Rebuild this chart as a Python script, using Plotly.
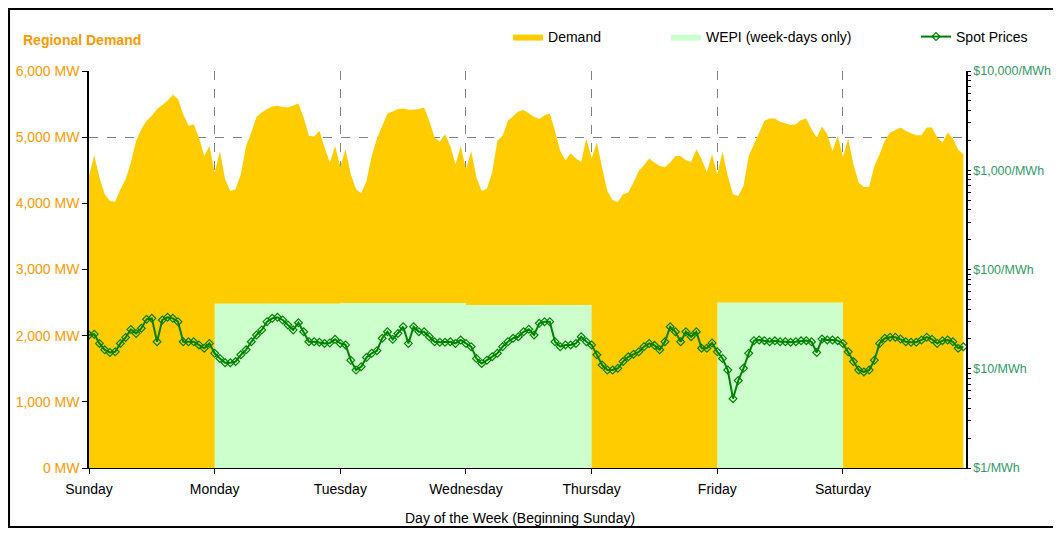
import plotly.graph_objects as go

# ---------------- data ----------------
DAYS = ["Sunday", "Monday", "Tuesday", "Wednesday", "Thursday", "Friday", "Saturday"]

# hourly regional demand (MW), one list per day
demand_sun = [4414, 4727, 4389, 4136, 4035, 4025, 4212, 4364, 4616, 4944, 5121, 5247,
              5323, 5424, 5485, 5550, 5641, 5576, 5348, 5171, 5197, 4995, 4717, 4868]
demand_mon = [4465, 4792, 4364, 4187, 4212, 4439, 4868, 5071, 5308, 5374, 5424, 5465,
              5475, 5455, 5450, 5485, 5510, 5298, 5020, 5010, 5096, 4843, 4616, 4868]
demand_tue = [4550, 4818, 4439, 4212, 4151, 4338, 4717, 4980, 5182, 5359, 5389, 5424,
              5434, 5414, 5414, 5424, 5450, 5247, 4995, 4929, 5045, 4868, 4591, 4868]
demand_wed = [4515, 4792, 4389, 4187, 4222, 4465, 4944, 5020, 5247, 5323, 5389, 5409,
              5359, 5308, 5273, 5333, 5359, 5096, 4792, 4652, 4758, 4677, 4626, 4980]
demand_thu = [4680, 4919, 4540, 4187, 4050, 4020, 4136, 4162, 4313, 4490, 4576, 4677,
              4616, 4565, 4550, 4616, 4717, 4717, 4652, 4626, 4818, 4667, 4475, 4742]
demand_fri = [4439, 4778, 4414, 4136, 4111, 4263, 4717, 4894, 5096, 5247, 5283, 5283,
              5232, 5212, 5182, 5197, 5258, 5283, 5121, 4995, 5162, 5045, 4792, 5020]
demand_sat = [4700, 4980, 4591, 4313, 4247, 4252, 4565, 4742, 4944, 5071, 5111, 5146,
              5095, 5060, 5030, 5030, 5146, 5146, 4995, 4919, 5071, 4980, 4813, 4742]

# hourly spot prices ($/MWh), one list per day
price_sun = [21.9, 22.3, 18.0, 15.5, 14.6, 14.8, 18.0, 20.7, 24.9, 22.7, 25.6, 31.5,
             32.2, 18.7, 31.0, 33.0, 32.2, 29.8, 18.7, 18.7, 18.7, 17.4, 16.1, 18.0]
price_mon = [14.3, 12.7, 11.5, 11.5, 11.8, 13.8, 15.5, 18.7, 21.9, 24.6, 29.8, 32.2,
             33.0, 31.0, 27.6, 24.6, 29.1, 23.6, 18.7, 18.7, 18.5, 18.0, 18.2, 19.8]
price_tue = [18.0, 17.4, 12.2, 9.7, 10.5, 13.0, 14.3, 15.2, 20.3, 23.6, 19.8, 22.7,
             26.5, 18.0, 26.5, 23.6, 23.6, 21.0, 18.7, 18.5, 18.5, 18.7, 18.0, 19.5]
price_wed = [18.0, 16.7, 12.7, 11.3, 12.2, 13.2, 14.3, 16.7, 18.7, 20.3, 21.0, 23.6,
             25.0, 21.9, 28.7, 29.8, 29.8, 18.7, 16.7, 17.4, 17.4, 18.0, 21.0, 18.7]
price_thu = [17.4, 13.8, 10.9, 9.7, 9.7, 10.1, 11.8, 13.2, 14.0, 14.8, 16.7, 18.0,
             17.2, 15.5, 18.7, 26.5, 23.6, 18.7, 23.6, 21.0, 23.6, 16.1, 16.1, 18.2]
price_fri = [14.8, 12.7, 9.7, 5.0, 7.6, 10.1, 14.3, 19.2, 19.5, 19.2, 18.7, 19.1,
             18.7, 18.7, 18.5, 18.7, 19.1, 19.2, 18.7, 14.6, 19.9, 19.5, 19.5, 19.2]
price_sat = [18.0, 14.8, 11.8, 9.7, 9.3, 9.7, 12.2, 18.0, 20.3, 20.8, 20.8, 19.9,
             18.7, 18.5, 18.5, 19.5, 20.8, 19.8, 18.0, 19.2, 19.5, 18.7, 16.1, 16.7]

# WEPI level (MW) per day (0 = not shown)
wepi_mw = [0, 2485, 2495, 2465, 0, 2500, 0]

# axis tick values / labels
mw_ticks = [0, 1000, 2000, 3000, 4000, 5000, 6000]
mw_labels = [f"{v:,} MW" for v in mw_ticks]
price_ticks = [1, 10, 100, 1000, 10000]
price_labels = [f"${v:,}/MWh" for v in price_ticks]

# ---------------- build ----------------
demand = demand_sun + demand_mon + demand_tue + demand_wed + demand_thu + demand_fri + demand_sat
prices = price_sun + price_mon + price_tue + price_wed + price_thu + price_fri + price_sat
hours = list(range(len(demand)))
day_start = [24 * i for i in range(len(DAYS))]
minor_vals = [m * 10 ** e for e in range(4) for m in range(2, 10)]

ORANGE = "#FF9900"
GREEN_TXT = "#339966"
FONT = "Liberation Sans, Arial, sans-serif"

fig = go.Figure()
fig.add_trace(go.Scatter(
    x=hours, y=demand, name="Demand", mode="lines",
    line=dict(width=0, color="#FFCC00"), fill="tozeroy", fillcolor="#FFCC00",
    legend="legend", hoverinfo="skip"))
fig.add_trace(go.Scatter(
    x=day_start, y=wepi_mw, name="WEPI (week-days only)", mode="lines",
    line=dict(width=0, shape="hv", color="#CCFFCC"), fill="tozeroy", fillcolor="#CCFFCC",
    legend="legend2", hoverinfo="skip"))
fig.add_trace(go.Scatter(
    x=hours, y=prices, name="Spot Prices", mode="lines+markers", yaxis="y2",
    line=dict(color="#008000", width=2),
    marker=dict(symbol="diamond-open", size=6, color="#008000", line=dict(width=1.2, color="#008000")),
    legend="legend3"))

fig.update_layout(
    template="none",
    width=1045, height=520, autosize=False,
    margin=dict(l=81, r=87, t=63, b=60, autoexpand=False),
    paper_bgcolor="white", plot_bgcolor="white",
    font=dict(family=FONT, size=14, color="black"),
    showlegend=True,
    xaxis=dict(
        range=[0, 167.5], tickmode="array", tickvals=day_start, ticktext=DAYS,
        showgrid=True, gridcolor="#808080", griddash="dash", gridwidth=1,
        ticks="outside", ticklen=5, tickcolor="black", tickwidth=1, ticklabelstandoff=3,
        showline=True, linecolor="black", linewidth=1, zeroline=False,
        automargin=False, tickfont=dict(size=14, color="black")),
    yaxis=dict(
        range=[0, 6000], tickmode="array", tickvals=mw_ticks, ticktext=mw_labels,
        showgrid=True, gridcolor="#808080", griddash="dash", gridwidth=1,
        ticks="outside", ticklen=5, tickcolor="black",
        showline=True, linecolor="black", linewidth=1.5, zeroline=False,
        automargin=False, tickfont=dict(size=14, color=ORANGE)),
    yaxis2=dict(
        type="log", range=[0, 4], overlaying="y", side="right",
        tickmode="array", tickvals=price_ticks, ticktext=price_labels,
        showgrid=False, zeroline=False,
        ticks="outside", ticklen=3, tickcolor="black",
        minor=dict(ticks="outside", ticklen=3, tickcolor="black", tickmode="array", tickvals=minor_vals, showgrid=False),
        showline=True, linecolor="black", linewidth=1.5,
        automargin=False, tickfont=dict(size=12.5, color=GREEN_TXT)),
    legend=dict(x=0.4778, y=1.0857, xanchor="left", yanchor="middle", orientation="h",
                bgcolor="rgba(0,0,0,0)", borderwidth=0, font=dict(size=14, color="black")),
    legend2=dict(x=0.6579, y=1.0857, xanchor="left", yanchor="middle", orientation="h",
                 bgcolor="rgba(0,0,0,0)", borderwidth=0, font=dict(size=14, color="black")),
    legend3=dict(x=0.943, y=1.0857, xanchor="left", yanchor="middle", orientation="h",
                 bgcolor="rgba(0,0,0,0)", borderwidth=0, font=dict(size=14, color="black")),
)

fig.add_annotation(text="<b>Regional Demand</b>", xref="paper", yref="paper",
                   x=-0.0775, y=1.078, xanchor="left", yanchor="middle", showarrow=False,
                   font=dict(size=14, color=ORANGE, family=FONT))
fig.add_annotation(text="Day of the Week (Beginning Sunday)", xref="paper", yref="paper",
                   x=0.4914, y=-0.126, xanchor="center", yanchor="middle", showarrow=False,
                   font=dict(size=14, color="black", family=FONT))

# outer chart border
fig.add_shape(type="rect", xref="paper", yref="paper",
              x0=-0.0912, x1=1.2, y0=-0.1486, y1=1.156,
              line=dict(color="black", width=2), fillcolor="rgba(0,0,0,0)", layer="below")

fig.write_html("out.html")
